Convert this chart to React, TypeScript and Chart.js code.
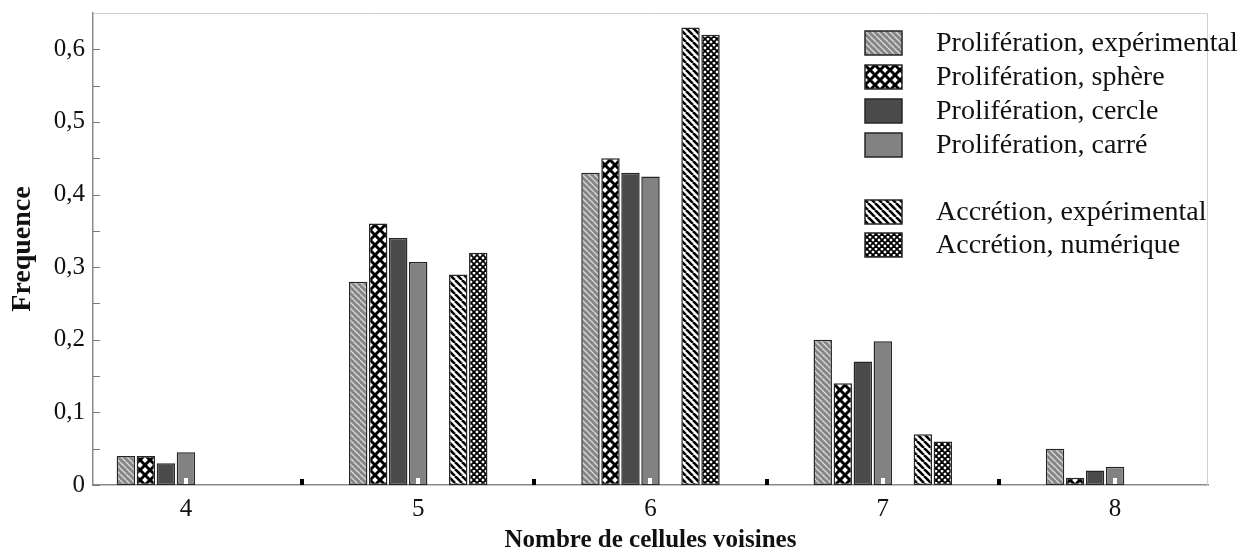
import React, { useEffect, useRef } from "react";
import { Chart, registerables } from "chart.js";

Chart.register(...registerables);

const categories = [4, 5, 6, 7, 8];
const prolifExp = [0.04, 0.28, 0.43, 0.2, 0.05];
const prolifSphere = [0.04, 0.36, 0.45, 0.14, 0.01];
const prolifCercle = [0.03, 0.34, 0.43, 0.17, 0.02];
const prolifCarre = [0.045, 0.307, 0.425, 0.198, 0.025];
const accretionExp = [0, 0.29, 0.63, 0.07, 0];
const accretionNum = [0, 0.32, 0.62, 0.06, 0];
const seriesLabels = [
  "Prolifération, expérimental",
  "Prolifération, sphère",
  "Prolifération, cercle",
  "Prolifération, carré",
  "Accrétion, expérimental",
  "Accrétion, numérique",
];
const yTicks = [0, 0.1, 0.2, 0.3, 0.4, 0.5, 0.6];
const yMinorTicks = [0.05, 0.15, 0.25, 0.35, 0.45, 0.55];
const xHalfTicks = [4.5, 5.5, 6.5, 7.5];

const FONT = "'Liberation Serif', 'Times New Roman', serif";

function makeTile(size: number, draw: (c: CanvasRenderingContext2D, s: number) => void) {
  const cv = document.createElement("canvas");
  cv.width = size;
  cv.height = size;
  const c = cv.getContext("2d")!;
  draw(c, size);
  return cv;
}

function stripes(bg: string, fg: string, size: number, lw: number) {
  return makeTile(size, (c, s) => {
    c.fillStyle = bg;
    c.fillRect(0, 0, s, s);
    c.strokeStyle = fg;
    c.lineWidth = lw;
    for (const o of [-s, 0, s]) {
      c.beginPath();
      c.moveTo(o, 0);
      c.lineTo(o + s, s);
      c.stroke();
    }
  });
}

function cross(bg: string, fg: string, size: number, lw: number) {
  return makeTile(size, (c, s) => {
    c.fillStyle = bg;
    c.fillRect(0, 0, s, s);
    c.strokeStyle = fg;
    c.lineWidth = lw;
    for (const o of [-s, 0, s]) {
      c.beginPath();
      c.moveTo(o, 0);
      c.lineTo(o + s, s);
      c.stroke();
      c.beginPath();
      c.moveTo(o + s, 0);
      c.lineTo(o, s);
      c.stroke();
    }
  });
}

export default function App() {
  const ref = useRef<HTMLCanvasElement>(null);

  useEffect(() => {
    document.body.style.margin = "0";
    const canvas = ref.current!;
    const ctx = canvas.getContext("2d")!;

    const pExp = ctx.createPattern(stripes("#868686", "#dadada", 6, 1.3), "repeat")!;
    const pSph = ctx.createPattern(cross("#ffffff", "#000000", 10, 3), "repeat")!;
    const aExp = ctx.createPattern(stripes("#ffffff", "#000000", 7, 2.6), "repeat")!;
    const aNum = ctx.createPattern(cross("#ffffff", "#000000", 6, 1.8), "repeat")!;
    const fills: (string | CanvasPattern)[] = [pExp, pSph, "#4a4a4a", "#828282", aExp, aNum];

    const toData = (vals: number[]) => categories.map((c, i) => ({ x: c, y: vals[i] }));
    const seriesVals = [prolifExp, prolifSphere, prolifCercle, prolifCarre, accretionExp, accretionNum];

    const mk = (i: number) => ({
      label: seriesLabels[i],
      data: toData(seriesVals[i]),
      backgroundColor: fills[i],
      borderColor: "#262626",
      borderWidth: 1.5,
      borderSkipped: false as const,
    });

    const datasets: any[] = [
      mk(0),
      mk(1),
      mk(2),
      mk(3),
      {
        label: "",
        data: toData([0, 0, 0, 0, 0]),
        backgroundColor: "rgba(0,0,0,0)",
        borderWidth: 0,
      },
      mk(4),
      mk(5),
    ];

    const decor = {
      id: "decor",
      afterDatasetsDraw(chart: any) {
        const c = chart.ctx;
        const { left, right, top, bottom } = chart.chartArea;
        const xs = chart.scales.x;
        const ys = chart.scales.y;
        c.save();
        c.strokeStyle = "#cfcfcf";
        c.lineWidth = 1;
        c.beginPath();
        c.moveTo(left, top + 0.5);
        c.lineTo(right - 0.5, top + 0.5);
        c.lineTo(right - 0.5, bottom);
        c.stroke();
        c.strokeStyle = "#7a7a7a";
        for (const v of [...yTicks, ...yMinorTicks]) {
          const y = Math.round(ys.getPixelForValue(v)) + 0.5;
          c.beginPath();
          c.moveTo(left, y);
          c.lineTo(left + 7, y);
          c.stroke();
        }
        c.fillStyle = "#000";
        for (const v of xHalfTicks) {
          const x = xs.getPixelForValue(v);
          c.fillRect(Math.round(x) - 2, bottom - 6, 4, 6);
        }
        c.fillStyle = "#ffffff";
        for (const v of categories) {
          const x = xs.getPixelForValue(v);
          c.fillRect(Math.round(x) - 2, bottom - 7, 4, 6);
        }
        const rows = [43, 77, 111, 145, 212, 245];
        const bx = 865;
        const bw = 37;
        const bh = 24;
        c.font = `28px ${FONT}`;
        c.textBaseline = "middle";
        c.textAlign = "left";
        rows.forEach((cy, i) => {
          c.fillStyle = fills[i];
          c.fillRect(bx, cy - bh / 2, bw, bh);
          c.strokeStyle = "#262626";
          c.lineWidth = 1.5;
          c.strokeRect(bx, cy - bh / 2, bw, bh);
          c.fillStyle = "#111";
          c.fillText(seriesLabels[i], 936, cy + 1);
        });
        c.restore();
      },
    };

    const chart = new Chart(ctx, {
      type: "bar",
      data: { datasets },
      plugins: [decor],
      options: {
        animation: false,
        responsive: false,
        devicePixelRatio: 1,
        layout: { padding: { left: 0, right: 39, top: 13, bottom: 0 } },
        plugins: { legend: { display: false }, tooltip: { enabled: false } },
        datasets: {
          bar: { categoryPercentage: 0.603, barPercentage: 0.92 },
        },
        scales: {
          x: {
            type: "linear",
            min: 3.6,
            max: 8.4,
            offset: false,
            grid: { display: false, drawTicks: false },
            border: { display: true, color: "#8a8a8a", width: 1.5 },
            afterBuildTicks: (s: any) => {
              s.ticks = categories.map((v) => ({ value: v }));
            },
            afterFit: (s: any) => {
              s.height = 68;
              s.paddingLeft = 0;
              s.paddingRight = 0;
            },
            ticks: {
              padding: 9,
              color: "#111",
              font: { family: FONT, size: 25 },
              callback: (v: any) => String(v),
            },
            title: {
              display: true,
              text: "Nombre de cellules voisines",
              color: "#111",
              font: { family: FONT, size: 25, weight: "bold", lineHeight: 1 },
              padding: { top: 0, bottom: 0 },
            },
          },
          y: {
            type: "linear",
            min: 0,
            max: 0.65,
            grid: { display: false, drawTicks: false },
            border: { display: true, color: "#8a8a8a", width: 1.5 },
            afterBuildTicks: (s: any) => {
              s.ticks = yTicks.map((v) => ({ value: v }));
            },
            afterFit: (s: any) => {
              s.width = 93;
              s.paddingTop = 0;
              s.paddingBottom = 0;
            },
            ticks: {
              padding: 8,
              color: "#111",
              font: { family: FONT, size: 25 },
              callback: (v: any) => (v === 0 ? "0" : Number(v).toFixed(1).replace(".", ",")),
            },
            title: {
              display: true,
              text: "Frequence",
              color: "#111",
              font: { family: FONT, size: 28, weight: "bold", lineHeight: 1 },
              padding: { top: 9, bottom: 0 },
            },
          },
        },
      } as any,
    });
    return () => chart.destroy();
  }, []);

  return (
    <div style={{ position: "fixed", left: 0, top: 0, width: 1247, height: 553, background: "#fff" }}>
      <canvas ref={ref} width={1247} height={553} style={{ width: 1247, height: 553 }} />
    </div>
  );
}
